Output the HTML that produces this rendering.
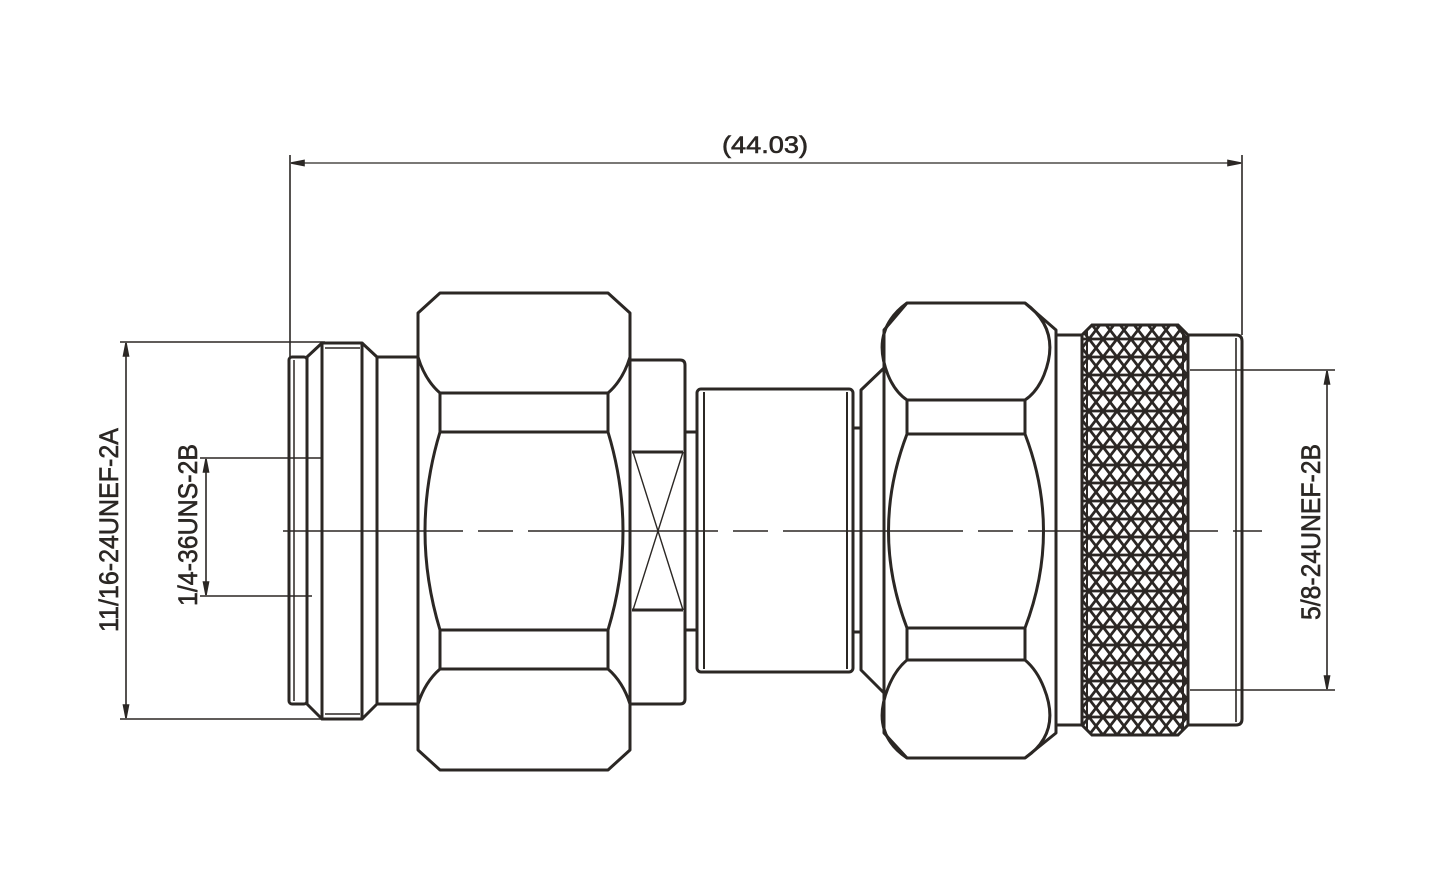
<!DOCTYPE html>
<html><head><meta charset="utf-8"><style>
html,body{margin:0;padding:0;background:#fff;}
svg{display:block;}
text{font-family:"Liberation Sans",sans-serif;fill:#2b2724;stroke:#2b2724;stroke-width:0.6;}
</style></head><body>
<svg width="1456" height="896" viewBox="0 0 1456 896" xmlns="http://www.w3.org/2000/svg">
<defs>
<pattern id="kn" width="14" height="18" patternUnits="userSpaceOnUse" x="1082" y="330">
<rect width="14" height="18" fill="#fff"/>
<path d="M0 0 L14 18 M14 0 L0 18 M-7 9 L0 18 M7 -9 L14 0 M0 0 L-7 9 M21 9 L14 18 M7 27 L14 18 M7 -9 L0 0 M0 9 L14 9" stroke="#2b2724" stroke-width="2.8" fill="none"/>
</pattern>
</defs>
<g fill="none" stroke="#2b2724" stroke-width="1.6">
<line x1="290" y1="155" x2="290" y2="357"/>
<line x1="1242" y1="155" x2="1242" y2="335"/>
<line x1="292" y1="163" x2="1240" y2="163" stroke-width="1.3"/>
<path d="M291 163 L304 160.5 L304 165.5 Z M1241 163 L1228 160.5 L1228 165.5 Z" fill="#2b2724"/>
<line x1="120" y1="342" x2="325" y2="342"/>
<line x1="120" y1="719" x2="325" y2="719"/>
<line x1="126" y1="343" x2="126" y2="718"/>
<path d="M126 343 L123.5 356 L128.5 356 Z M126 718 L123.5 705 L128.5 705 Z" fill="#2b2724"/>
<line x1="200" y1="458" x2="322" y2="458"/>
<line x1="200" y1="596" x2="312" y2="596"/>
<line x1="206" y1="459" x2="206" y2="595"/>
<path d="M206 459 L203.5 472 L208.5 472 Z M206 595 L203.5 582 L208.5 582 Z" fill="#2b2724"/>
<line x1="1190" y1="370" x2="1335" y2="370"/>
<line x1="1190" y1="690" x2="1335" y2="690"/>
<line x1="1327" y1="371" x2="1327" y2="689"/>
<path d="M1327 371 L1324.5 384 L1329.5 384 Z M1327 689 L1324.5 676 L1329.5 676 Z" fill="#2b2724"/>
<line x1="283" y1="531" x2="1262" y2="531" stroke-dasharray="180,15,35,15,190,15,35,15"/>
</g>
<g fill="none" stroke="#2b2724" stroke-width="3" stroke-linejoin="round">
<rect x="289" y="357" width="18" height="347" rx="3"/>
<line x1="294" y1="360" x2="294" y2="701" stroke-width="1.5"/>
<path d="M307 357 L322 343 L322 719 L307 704 Z"/>
<rect x="322" y="343" width="40" height="376"/>
<line x1="325" y1="348" x2="360" y2="348" stroke-width="1.5"/>
<line x1="325" y1="714" x2="360" y2="714" stroke-width="1.5"/>
<path d="M362 343 L377 357 L377 704 L362 719"/>
<path d="M377 357 L418 357 M377 704 L418 704"/>
<path d="M440 293 L608 293 L630 313 L630 750 L608 770 L440 770 L418 750 L418 313 Z"/>
<path d="M418 357 Q425 380 440 393 L608 393 Q623 380 630 357"/>
<path d="M440 393 L440 432 M608 393 L608 432"/>
<path d="M440 432 L608 432"/>
<path d="M440 432 Q410 531 440 630 M608 432 Q638 531 608 630"/>
<path d="M440 630 L608 630 M440 630 L440 669 M608 630 L608 669 M440 669 L608 669"/>
<path d="M418 704 Q425 682 440 669 M630 704 Q623 682 608 669"/>
<path d="M630 360 L680 360 Q685 360 685 365 L685 699 Q685 704 680 704 L630 704"/>
<path d="M632 452 L683 452 M632 610 L683 610"/>
<path d="M633 452 L683 610 M683 452 L633 610" stroke-width="1.4"/>
<path d="M685 432 L696 432 M685 630 L696 630"/>
<rect x="697" y="389" width="156" height="283" rx="4"/>
<line x1="704" y1="392" x2="704" y2="669" stroke-width="2"/>
<line x1="847" y1="392" x2="847" y2="669" stroke-width="2"/>
<path d="M853 428 L861 428 M853 632 L861 632"/>
<path d="M884 368 L861 390 L861 670 L884 693"/>
<path d="M907 303 L1025 303 L1056 330 L1056 733 L1025 758 L907 758 L884 733 L884 330 Z"/>
<path d="M907 303 Q870 330 888 375 Q895 392 907 400 M1025 303 Q1062 330 1044 375 Q1037 392 1025 400"/>
<path d="M907 400 L1025 400 M907 400 L907 434 M1025 400 L1025 434 M907 434 L1025 434"/>
<path d="M907 434 Q870 531 907 628 M1025 434 Q1062 531 1025 628"/>
<path d="M907 628 L1025 628 M907 628 L907 660 M1025 628 L1025 660 M907 660 L1025 660"/>
<path d="M907 758 Q870 733 888 688 Q895 670 907 660 M1025 758 Q1062 733 1044 688 Q1037 670 1025 660"/>
<rect x="1056" y="335" width="26" height="390"/>
<path d="M1187 335 L1236 335 Q1242 335 1242 341 L1242 719 Q1242 725 1236 725 L1187 725"/>
<line x1="1236" y1="338" x2="1236" y2="722" stroke-width="1.6"/>
</g>
<path d="M1092 325 L1178 325 L1188 335 L1188 725 L1178 735 L1092 735 L1082 725 L1082 335 Z" fill="url(#kn)" stroke="#2b2724" stroke-width="3"/>
<line x1="1087" y1="330" x2="1087" y2="730" stroke="#2b2724" stroke-width="2"/>
<line x1="1183" y1="330" x2="1183" y2="730" stroke="#2b2724" stroke-width="2"/>
<text x="765" y="153" font-size="24" text-anchor="middle" textLength="86" lengthAdjust="spacingAndGlyphs">(44.03)</text>
<text transform="translate(118,530) rotate(-90)" font-size="27" text-anchor="middle" textLength="204" lengthAdjust="spacingAndGlyphs">11/16-24UNEF-2A</text>
<text transform="translate(197,525) rotate(-90)" font-size="27" text-anchor="middle" textLength="162" lengthAdjust="spacingAndGlyphs">1/4-36UNS-2B</text>
<text transform="translate(1320,532) rotate(-90)" font-size="27" text-anchor="middle" textLength="176" lengthAdjust="spacingAndGlyphs">5/8-24UNEF-2B</text>
</svg>
</body></html>
